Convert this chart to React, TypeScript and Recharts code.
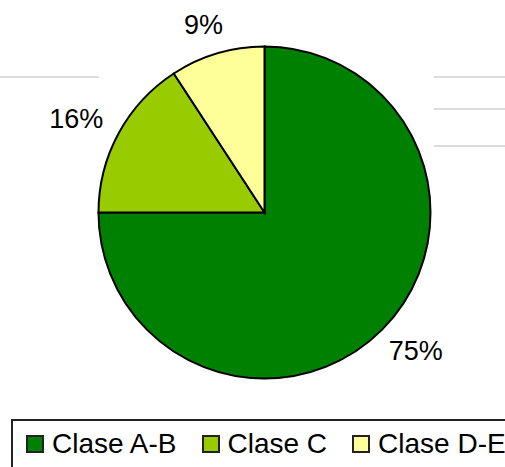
import { PieChart, Pie, Cell, Legend } from "recharts"

// slice shares (degrees / 3.6)
const categories = ["Clase A-B", "Clase C", "Clase D-E"]
const shares = [75, 15.8, 9.2]
const colors = ["#008000", "#99CC00", "#FFFF99"]

const data = categories.map((name, i) => ({ name, value: shares[i] }))

const RADIAN = Math.PI / 180

const renderLabel = (props: any) => {
  const { cx, cy, midAngle, outerRadius, percent } = props
  // excel style "outside end" labels, a bit squashed vertically
  const x = cx + (outerRadius + 48) * Math.cos(-midAngle * RADIAN)
  const y = cy + (outerRadius + 30) * Math.sin(-midAngle * RADIAN)
  return (
    <text
      x={x}
      y={y}
      fill="#000"
      fontSize={27}
      fontFamily="'Liberation Sans', Arial, sans-serif"
      textAnchor="middle"
      dominantBaseline="central"
    >
      {`${Math.round(percent * 100)}%`}
    </text>
  )
}

const renderLegend = () => (
  <div
    style={{
      display: "flex",
      alignItems: "center",
      border: "2px solid #222",
      borderRight: "none",
      height: 50,
      width: 520,
      paddingLeft: 13,
      boxSizing: "border-box",
      fontFamily: "'Liberation Sans', Arial, sans-serif",
      fontSize: 28,
      color: "#000",
      background: "#fff",
    }}
  >
    {data.map((d, i) => (
      <div key={d.name} style={{ display: "flex", alignItems: "center", marginRight: 25 }}>
        <span
          style={{
            display: "inline-block",
            width: 14,
            height: 14,
            border: "2px solid #222",
            background: colors[i],
            marginRight: 8,
          }}
        />
        <span style={{ lineHeight: "28px" }}>{d.name}</span>
      </div>
    ))}
  </div>
)

// faint leftovers of the slide background
const bgLines = [
  { left: 0, top: 76, width: 99 },
  { left: 434, top: 76, width: 71 },
  { left: 434, top: 108, width: 71 },
  { left: 434, top: 145, width: 71 },
]

export default function App() {
  return (
    <div
      style={{
        position: "absolute",
        left: 0,
        top: 0,
        width: 505,
        height: 467,
        overflow: "hidden",
        background: "#fff",
      }}
    >
      {bgLines.map((l, i) => (
        <div
          key={i}
          style={{
            position: "absolute",
            left: l.left,
            top: l.top,
            width: l.width,
            height: 2,
            background: "#dcdcdc",
          }}
        />
      ))}
      <PieChart
        width={505}
        height={467}
        margin={{ top: 0, right: 0, bottom: 0, left: 0 }}
        style={{ position: "absolute", left: 0, top: 0 }}
      >
        <Pie
          data={data}
          dataKey="value"
          nameKey="name"
          cx={264.5}
          cy={212.5}
          outerRadius={166}
          startAngle={90}
          endAngle={-270}
          stroke="#000"
          strokeWidth={2}
          label={renderLabel}
          labelLine={false}
          isAnimationActive={false}
        >
          {data.map((d, i) => (
            <Cell key={d.name} fill={colors[i]} />
          ))}
        </Pie>
        <Legend
          content={renderLegend}
          wrapperStyle={{ position: "absolute", left: 11, top: 419, width: 520 }}
        />
      </PieChart>
    </div>
  )
}
